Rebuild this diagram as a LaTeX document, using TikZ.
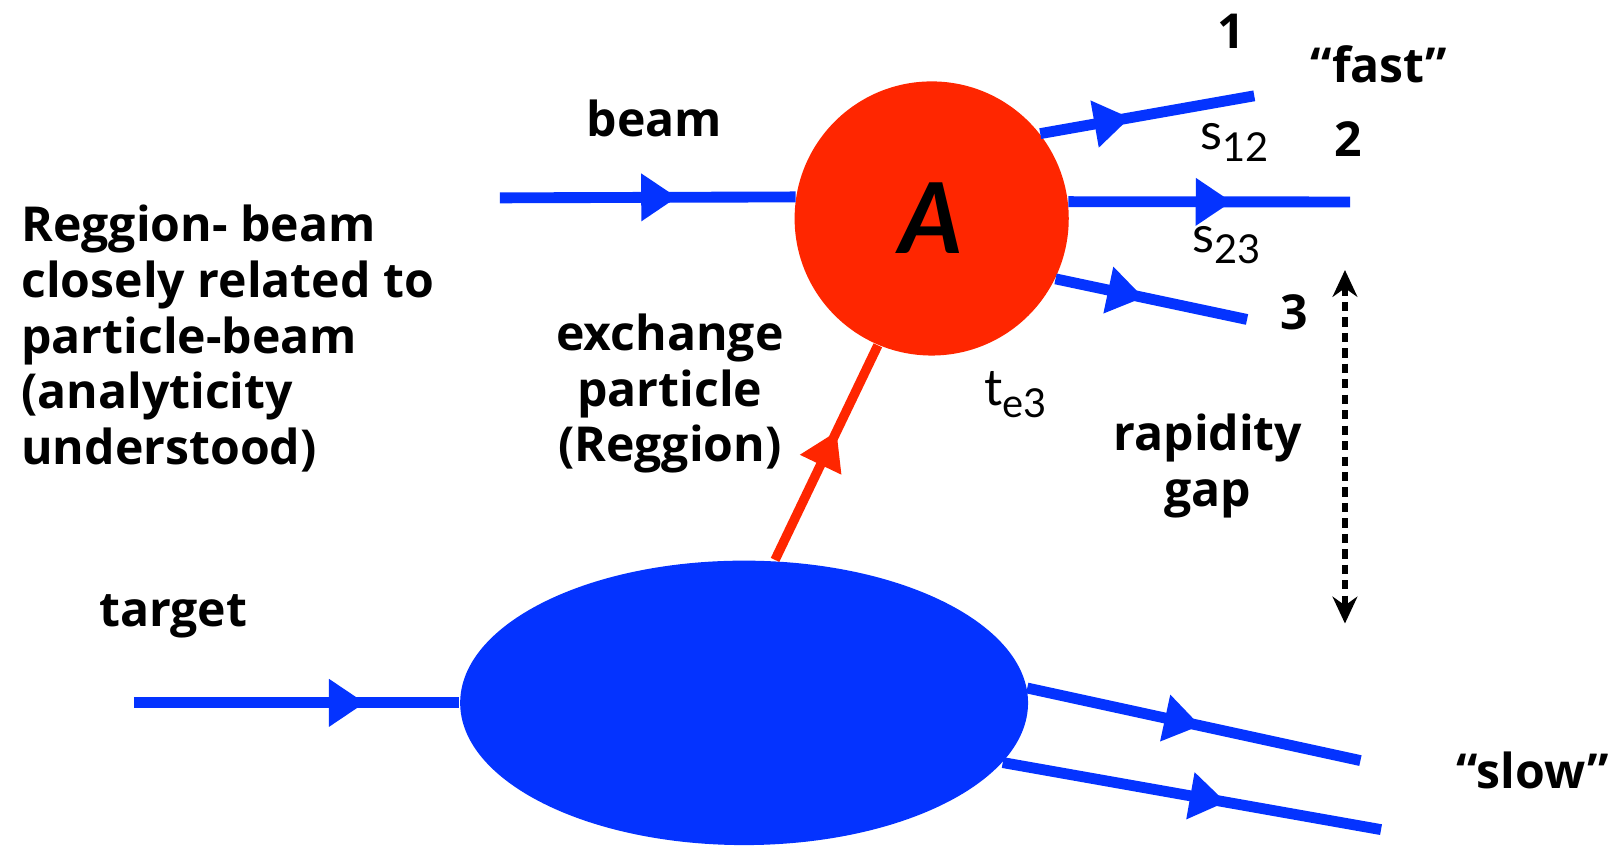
\documentclass[tikz,border=0pt]{standalone}
\usepackage{fontspec}
\setmainfont{Lato}
\newfontfamily\gillfont{Open Sans}
\usetikzlibrary{arrows.meta,positioning,shapes.geometric,decorations.markings}
\definecolor{pblue}{RGB}{4,51,255}
\definecolor{pred}{RGB}{255,38,0}
\newcommand{\lowsub}[1]{\raisebox{-0.45ex}{\fontsize{11}{11}\selectfont #1}}

\begin{document}
\begin{tikzpicture}[
      amp/.style={circle, fill=pred, minimum size=2.66cm, inner sep=0pt,
                  font=\fontsize{27}{27}\selectfont\bfseries\itshape},
      blob/.style={ellipse, fill=pblue, minimum width=5.51cm,
                   minimum height=2.76cm, inner sep=0pt},
      flow/.style={pblue, line width=3pt, postaction={decorate},
                   decoration={markings, mark=at position #1 with
                   {\arrow{Triangle[length=3.5mm, width=4.4mm]}}}},
      regge/.style={pred, line width=2.6pt, postaction={decorate},
                    decoration={markings, mark=at position #1 with
                    {\arrow{Triangle[length=3.6mm, width=4.2mm]}}}},
      gapline/.style={{Stealth[length=2.6mm, width=2.4mm]}-{Stealth[length=2.6mm, width=2.4mm]},
                      line width=1.5pt, dash pattern=on 0.9mm off 0.6mm},
      lbl/.style={font=\gillfont\fontsize{13.3}{15.4}\selectfont\bfseries, align=center},
      kin/.style={font=\fontsize{14}{14}\selectfont}]
    \useasboundingbox (0,0) rectangle (15.68,8.21);
    % ----- blobs
    \node[amp] (A) at (9.04,6.09) {A};
    \node[blob] (T) at (7.22,1.39) {};
    % ----- free ends
    \coordinate (bin) at (4.85,6.29);
    \coordinate (tin) at (1.30,1.39);
    \coordinate (p1) at (12.17,7.28);
    \coordinate (p2) at (13.10,6.25);
    \coordinate (p3) at (12.10,5.11);
    \coordinate (q1) at (13.20,0.83);
    \coordinate (q2) at (13.40,0.16);
    \coordinate (gtop) at (13.05,5.59);
    \coordinate (gbot) at (13.05,2.16);
    % ----- incoming lines
    \draw[flow=0.60] (bin) -- (A.171);
    \draw[flow=0.71] (tin) -- (T.west);
    % ----- fast particles
    \draw[flow=0.42] (A.38) -- (p1);
    \draw[flow=0.58] (A.7) -- (p2);
    \draw[flow=0.46] (A.-26) -- (p3);
    % ----- slow particles
    \draw[flow=0.52] (T.3) -- (q1);
    \draw[flow=0.59] (T.-13) -- (q2);
    % ----- exchanged reggeon
    \draw[regge=0.60] ([xshift=3mm]T.north) -- (A.247);
    % ----- rapidity gap
    \draw[gapline] (gtop) -- (gbot);
    % ----- labels
    \node[lbl] (beam) at (6.35,7.06) {beam};
    \node[lbl] (tgt) at (1.68,2.23) {target};
    \node[lbl] (n1) at (11.95,7.91) {1};
    \node[lbl] (n2) at (13.08,6.86) {2};
    \node[lbl] (n3) at (12.56,5.18) {3};
    \node[lbl] (fast) at (13.38,7.59) {“fast”};
    \node[lbl] (slow) at (14.87,0.73) {“slow”};
    \node[kin] (s12) at (11.98,6.83) {s\lowsub{12}};
    \node[kin] (s23) at (11.90,5.83) {s\lowsub{23}};
    \node[kin] (te3) at (9.85,4.38) {t\lowsub{e3}};
    \node[lbl] (exch) at (6.50,4.39) {exchange\\particle\\(Reggion)};
    \node[lbl] (gap) at (11.72,3.685) {rapidity\\gap};
    \node[lbl, align=left, anchor=west, inner sep=0pt] (note) at (0.20,4.925)
      {Reggion- beam\\closely related to\\particle-beam\\(analyticity\\understood)};
\end{tikzpicture}
\end{document}
